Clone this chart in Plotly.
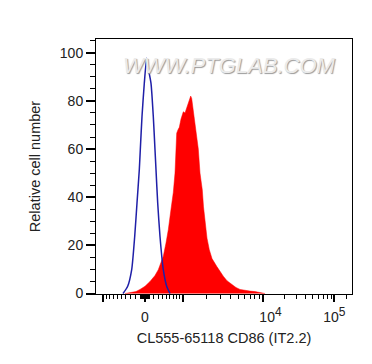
import numpy as np
import plotly.graph_objects as go

# ---- data (x in display channel units: 0 = left edge of plot, 256 = right edge) ----
ctrl_x = [27.0, 31.7, 35.7, 38.7, 41.0, 43.3, 44.3, 46.0, 48.3, 50.7, 52.5, 55.0, 57.3, 59.0, 60.0, 61.7, 64.0, 67.3, 70.7, 74.0]
ctrl_y = [0.0, 3.0, 9.9, 23.7, 37.6, 51.4, 59.7, 73.5, 87.3, 97.7, 93.0, 87.3, 73.5, 59.7, 51.4, 37.6, 23.7, 9.9, 3.0, 0.0]

cd86_x = [29.0, 34.0, 40.0, 44.0, 49.0, 54.0, 59.0, 62.3, 65.7, 67.3, 70.0, 72.3, 75.0, 77.3, 79.0, 80.0, 80.7, 82.0,
          83.3, 85.0, 87.3, 89.0, 90.5, 92.0, 93.5, 94.7, 95.7, 97.3, 99.0, 100.7, 102.3, 104.0, 106.3, 107.5, 109.0,
          111.0, 113.3, 116.0, 120.7, 124.0, 127.3, 131.0, 135.7, 140.0, 144.0, 149.0, 154.0, 159.0, 164.0, 169.0]
cd86_y = [0.0, 0.3, 0.8, 1.7, 3.0, 5.0, 7.5, 9.9, 13.5, 15.5, 21.0, 26.5, 35.0, 42.0, 50.0, 60.0, 66.6, 68.0,
          69.0, 72.5, 75.5, 75.0, 77.0, 79.0, 80.5, 82.0, 81.0, 76.3, 71.0, 66.6, 60.0, 50.0, 43.0, 36.0, 29.3,
          23.0, 18.2, 14.5, 11.3, 9.0, 7.2, 5.3, 3.7, 2.5, 1.7, 1.2, 1.0, 0.8, 0.5, 0.0]

# tick anchors (fluorescence value -> display channel)
label_vals = [0, 10000, 100000]
label_text = ["0",
              "&nbsp;&nbsp;&nbsp;&nbsp;10<sup><span style='font-size:12px'>4</span></sup>",
              "10<sup><span style='font-size:12px'>5</span></sup>"]
unlabeled_major_vals = [-1000, 1000]

ZERO, P1K, N1K = 49.0, 86.7, 6.7
LOG_ANCH = [(3, 86.7), (4, 166.7), (5, 238.3)]
W = 835.0


def chan(v):
    if v >= 1000:
        lv = np.log10(v)
        if lv <= 4:
            return LOG_ANCH[0][1] + (lv - 3) * (LOG_ANCH[1][1] - LOG_ANCH[0][1])
        return LOG_ANCH[1][1] + (lv - 4) * (LOG_ANCH[2][1] - LOG_ANCH[1][1])
    if v >= 0:
        return ZERO + (P1K - ZERO) * np.arcsinh(v / W) / np.arcsinh(1000 / W)
    return ZERO - (ZERO - N1K) * np.arcsinh(-v / W) / np.arcsinh(1000 / W)


minor_vals = []
minor_vals += [-k * 100 for k in range(1, 10)]
minor_vals += [k * 100 for k in range(1, 10)]
minor_vals += [s * k * 10 for s in (-1, 1) for k in range(1, 10)]
minor_vals += [k * 1000 for k in range(2, 10)]
minor_vals += [k * 10000 for k in range(2, 10)]
minor_vals += [150000]

fig = go.Figure()
fig.add_trace(go.Scatter(x=cd86_x, y=cd86_y, mode="lines", fill="tozeroy",
                         line=dict(color="#ff0000", width=0.5), fillcolor="#ff0000",
                         hoverinfo="skip", showlegend=False))
fig.add_trace(go.Scatter(x=ctrl_x, y=ctrl_y, mode="lines",
                         line=dict(color="#1f1fa8", width=1.5, shape="spline", smoothing=0.6),
                         hoverinfo="skip", showlegend=False))

font = dict(family="Liberation Sans, Arial, sans-serif", size=14, color="#222222")
tfont = dict(family="Liberation Sans, Arial, sans-serif", size=14.5, color="#222222")

# page body has an 8px margin, so the figure is 8px smaller and margins shifted
fig.update_layout(
    width=364, height=356,
    margin=dict(l=88, r=20, t=31, b=70, autoexpand=False),
    paper_bgcolor="white", plot_bgcolor="white",
    font=font,
    xaxis=dict(
        range=[0, 256], showgrid=False, zeroline=False, automargin=False,
        showline=True, linecolor="black", linewidth=1, mirror=True,
        tickmode="array", tickvals=[chan(v) for v in label_vals], ticktext=label_text,
        ticks="outside", ticklen=7, tickwidth=1.5, tickcolor="black", ticklabelstandoff=3,
        minor=dict(tickmode="array", tickvals=[chan(v) for v in minor_vals], ticks="outside",
                   ticklen=4, tickwidth=1, tickcolor="black", showgrid=False),
        title=dict(text="CL555-65118 CD86 (IT2.2)", font=tfont, standoff=9),
        tickfont=font,
    ),
    xaxis2=dict(
        overlaying="x", matches="x", side="bottom", showgrid=False, zeroline=False,
        automargin=False, showline=False, showticklabels=False,
        tickmode="array", tickvals=[chan(v) for v in unlabeled_major_vals],
        ticks="outside", ticklen=7, tickwidth=1.5, tickcolor="black",
    ),
    yaxis=dict(
        range=[-0.2, 105.7], showgrid=False, zeroline=False, automargin=False,
        showline=True, linecolor="black", linewidth=1, mirror=True,
        tickvals=[0, 20, 40, 60, 80, 100],
        ticks="outside", ticklen=9, tickwidth=1.5, tickcolor="black",
        minor=dict(dtick=5, tick0=0, ticks="outside", ticklen=5, tickwidth=1, tickcolor="black", showgrid=False),
        title=dict(text="Relative cell number", font=tfont, standoff=15),
        tickfont=font,
    ),
    annotations=[dict(
        text="WWW.PTGLAB.COM", xref="paper", yref="paper", x=0.52, y=0.898,
        showarrow=False, xanchor="center", yanchor="middle",
        font=dict(family="Liberation Sans, Arial, sans-serif", size=22, color="#ebebeb",
                  style="italic", shadow="1px 1px 1px #9a9a9a"),
    )],
)

# invisible helper trace so the unlabeled major-tick axis is drawn
fig.add_trace(go.Scatter(x=[chan(-1000)], y=[None], xaxis="x2", mode="lines",
                         hoverinfo="skip", showlegend=False))

fig.write_html("out.html")
